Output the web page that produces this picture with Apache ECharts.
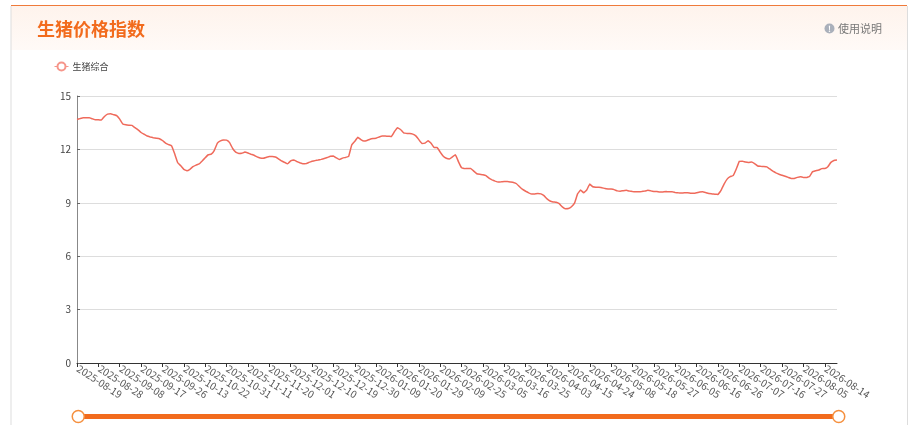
<!DOCTYPE html>
<html lang="zh-CN">
<head>
<meta charset="utf-8">
<title>生猪价格指数</title>
<style>html,body{margin:0;padding:0;background:#fff;overflow:hidden}#chart{width:913px;height:425px}</style>
<script src="https://cdn.jsdelivr.net/npm/echarts@6/dist/echarts.min.js"></script>
</head>
<body>
<div id="chart"></div>
<script>
const titleText = '生猪价格指数';
const helpText = '使用说明';
const seriesName = '生猪综合';
const tickDates = ['2025-08-19','2025-08-28','2025-09-08','2025-09-17','2025-09-26','2025-10-13','2025-10-22','2025-10-31','2025-11-11','2025-11-20','2025-12-01','2025-12-10','2025-12-19','2025-12-30','2026-01-09','2026-01-20','2026-01-29','2026-02-09','2026-02-25','2026-03-05','2026-03-16','2026-03-25','2026-04-03','2026-04-15','2026-04-24','2026-05-08','2026-05-18','2026-05-27','2026-06-05','2026-06-16','2026-06-26','2026-07-07','2026-07-16','2026-07-27','2026-08-05','2026-08-14'];
const values = [
13.68,13.73,13.78,13.78,13.78,13.72,13.66,
13.66,13.65,13.85,13.98,14.0,13.95,13.9,
13.7,13.43,13.38,13.36,13.35,13.22,13.1,
12.95,12.85,12.75,12.7,12.66,12.63,12.6,
12.5,12.35,12.27,12.2,11.75,11.25,11.08,
10.88,10.8,10.88,11.03,11.12,11.18,11.35,
11.53,11.7,11.73,11.95,12.35,12.48,12.53,
12.52,12.38,12.05,11.85,11.77,11.78,11.85,
11.8,11.73,11.67,11.58,11.52,11.5,11.55,
11.6,11.6,11.57,11.47,11.35,11.27,11.19,
11.35,11.41,11.32,11.25,11.19,11.2,11.27,
11.33,11.37,11.4,11.44,11.49,11.54,11.61,
11.63,11.52,11.43,11.51,11.55,11.6,12.25,
12.45,12.68,12.55,12.47,12.5,12.57,12.61,
12.63,12.7,12.75,12.75,12.74,12.72,13.0,
13.22,13.12,12.93,12.9,12.89,12.86,12.76,
12.55,12.33,12.35,12.49,12.35,12.1,12.1,
11.85,11.62,11.5,11.46,11.58,11.7,11.3,
10.97,10.92,10.93,10.93,10.78,10.63,10.6,
10.58,10.53,10.38,10.29,10.22,10.17,10.18,
10.2,10.2,10.17,10.14,10.07,9.9,9.75,
9.65,9.56,9.49,9.5,9.52,9.5,9.4,
9.22,9.1,9.05,9.03,8.95,8.77,8.67,
8.68,8.78,8.98,9.5,9.72,9.56,9.72,
10.05,9.9,9.88,9.87,9.85,9.8,9.78,
9.77,9.74,9.67,9.65,9.68,9.7,9.66,
9.63,9.62,9.62,9.63,9.66,9.7,9.67,
9.64,9.63,9.6,9.61,9.63,9.62,9.62,
9.58,9.56,9.55,9.56,9.57,9.54,9.53,
9.56,9.61,9.62,9.57,9.52,9.5,9.48,
9.47,9.7,10.05,10.33,10.47,10.53,10.9,
11.33,11.34,11.29,11.27,11.29,11.2,11.07,
11.05,11.04,11.02,10.9,10.78,10.68,10.6,
10.55,10.49,10.43,10.37,10.37,10.43,10.47,
10.42,10.42,10.48,10.75,10.8,10.84,10.92,
10.93,11.03,11.27,11.38,11.4];

const labelStep = 7;
const categories = values.map((v, i) => (i % labelStep === 0 && tickDates[i / labelStep]) || '');
const font = '"Noto Sans CJK SC","Noto Sans",sans-serif';
const orange = '#f26b1d';
const lineColor = '#ef6a5b';

const chart = echarts.init(document.getElementById('chart'), null, {renderer: 'canvas'});
chart.setOption({
  animation: false,
  backgroundColor: '#fff',
  title: {
    text: titleText, left: 37, top: 17, padding: 0,
    textStyle: {color: orange, fontSize: 18, fontWeight: 'bold', fontFamily: font, lineHeight: 24}
  },
  legend: {
    left: 54, top: 61.5, padding: 0, itemWidth: 14, itemHeight: 10, itemGap: 8,
    itemStyle: {borderWidth: 1},
    lineStyle: {width: 1, color: '#f6958a'},
    textStyle: {fontSize: 9, color: '#444', fontFamily: font, padding: [0, 0, 0, -1]},
    data: [seriesName]
  },
  grid: {left: 77, right: 76, top: 96, bottom: 62},
  xAxis: {
    type: 'category', data: categories, boundaryGap: false,
    axisLine: {lineStyle: {color: '#333', width: 1}},
    axisTick: {interval: labelStep - 1, length: 4, lineStyle: {color: '#333'}},
    axisLabel: {interval: labelStep - 1, rotate: -33, fontSize: 10, color: '#555', margin: 4, padding: [0, 0, 0, 1], fontFamily: font, hideOverlap: false}
  },
  yAxis: {
    type: 'value', min: 0, max: 15, interval: 3,
    axisLine: {show: true, lineStyle: {color: '#888', width: 1}},
    axisTick: {show: true, inside: true, length: 3, lineStyle: {color: '#666'}},
    axisLabel: {fontSize: 10, color: '#444', margin: 6, fontFamily: font},
    splitLine: {lineStyle: {color: '#ddd', width: 1}}
  },
  dataZoom: [{
    type: 'slider', xAxisIndex: 0, start: 0, end: 100,
    left: 75.5, right: 75, bottom: 6, height: 5,
    showDetail: false, showDataShadow: false, brushSelect: false,
    backgroundColor: orange, borderColor: 'transparent', fillerColor: orange,
    moveHandleSize: 0,
    handleIcon: 'circle', handleSize: 12,
    handleStyle: {color: '#fff', borderColor: '#f5903f', borderWidth: 1.5}
  }],
  series: [{
    name: seriesName, type: 'line', data: values,
    smooth: 0.05, showSymbol: false, symbol: 'emptyCircle', symbolSize: 9,
    itemStyle: {color: '#f6958a'},
    lineStyle: {color: lineColor, width: 1.5}
  }],
  graphic: [
    {type: 'rect', silent: true, z: -1, shape: {x: 11, y: 5, width: 896, height: 45},
     style: {fill: new echarts.graphic.LinearGradient(0, 0, 0, 1, [{offset: 0, color: '#fef3ec'}, {offset: 1, color: '#fffaf7'}])}},
    {type: 'rect', silent: true, shape: {x: 11, y: 5, width: 896, height: 1}, style: {fill: '#ef7a3a'}},
    {type: 'rect', silent: true, shape: {x: 10.5, y: 6, width: 1, height: 419}, style: {fill: '#ddd'}},
    {type: 'rect', silent: true, shape: {x: 907, y: 6, width: 1, height: 419}, style: {fill: '#ddd'}},
    {type: 'circle', silent: true, shape: {cx: 829.5, cy: 28.5, r: 5}, style: {fill: '#aab0bb'}},
    {type: 'text', silent: true, x: 829.5, y: 28.5, style: {text: '!', fill: '#fff', font: 'bold 8px ' + font, align: 'center', verticalAlign: 'middle'}},
    {type: 'text', silent: true, x: 838, y: 28.5, style: {text: helpText, fill: '#777', font: '11px ' + font, verticalAlign: 'middle'}}
  ]
});
</script>
</body>
</html>
